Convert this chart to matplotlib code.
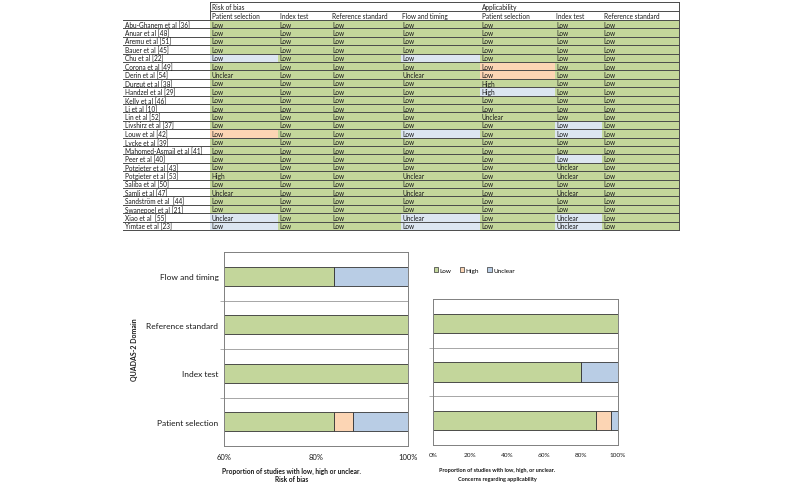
import matplotlib
matplotlib.use("Agg")
import matplotlib.pyplot as plt
from matplotlib.patches import Rectangle, Patch

plt.rcParams['font.family'] = ['Lato', 'DejaVu Sans']

# ---------------- table data ----------------
studies = ["Abu-Ghanem et al [36]", "Anuar et al [48]", "Aremu et al [51]", "Bauer et al [45]",
           "Chu et al [22]", "Corona et al [49]", "Derin et al [54]", "Durgut et al [38]",
           "Handzel et al [29]", "Kelly et al [46]", "Li et al [10]", "Lin et al [52]",
           "Livshirz et al [37]", "Louw et al [42]", "Lycke et al [39]", "Mahomed-Asmail et al [41]",
           "Peer et al [40]", "Potgieter et al [43]", "Potgieter et al [53]", "Saliba et al [50]",
           "Samli et al [47]", "Sandström et al  [44]", "Swanepoel et al [21]", "Xiao et al  [55]",
           "Yimtae et al [23]"]
column_names = ["Patient selection", "Index test", "Reference standard", "Flow and timing",
                "Patient selection", "Index test", "Reference standard"]
group_names = ["Risk of bias", "Applicability"]

L, U, H = "Low", "Unclear", "High"
rob_ps = [L, L, L, L, L, L, U, L, L, L, L, L, L, L, L, L, L, L, H, L, U, L, L, U, L]
rob_idx = [L] * 25
rob_ref = [L] * 25
rob_flow = [L, L, L, L, L, L, U, L, L, L, L, L, L, L, L, L, L, L, U, L, U, L, L, U, L]
app_ps = [L, L, L, L, L, L, L, H, H, L, L, U, L, L, L, L, L, L, L, L, L, L, L, L, L]
app_idx = [L, L, L, L, L, L, L, L, L, L, L, L, L, L, L, L, L, U, U, L, U, L, L, U, U]
app_ref = [L] * 25

# cell shading as it appears in the reference (g=green, b=blue, p=peach)
rob_ps_fill = list("ggggbggggggggpgggggggggbb")
rob_idx_fill = list("g" * 25)
rob_ref_fill = list("g" * 25)
rob_flow_fill = list("ggggbggggggggbgggggggggbb")
app_ps_fill = list("gggggppgbgggggggggggggggg")
app_idx_fill = list("ggggggggggggbbggbggggggbb")
app_ref_fill = list("g" * 25)

# ---------------- summary chart data (%) ----------------
rob_domains = ["Patient selection", "Index test", "Reference standard", "Flow and timing"]
rob_low = [84, 100, 100, 84]
rob_high = [4, 0, 0, 0]
rob_unclear = [12, 0, 0, 16]
rob_ticks = [60, 80, 100]

app_domains = ["Patient selection", "Index test", "Reference standard"]
app_low = [88, 80, 100]
app_high = [8, 0, 0]
app_unclear = [4, 20, 0]
app_ticks = [0, 20, 40, 60, 80, 100]

legend_labels = ["Low", "High", "Unclear"]

# ---------------- styling ----------------
fill_colors = {"g": "#c4d79b", "b": "#dce6f1", "p": "#fcd5b4"}
bar_colors = ["#c3d69b", "#fcd5b4", "#b9cde5"]
line_c = "#4a4a4a"
txt_c = "#1a1a1a"
fs_tab = 4.7

fig = plt.figure(figsize=(8, 4.85), dpi=100)

# ---------------- table ----------------
tab = fig.add_axes([0, 0, 1, 1], zorder=0)
tab.set_xlim(0, 800)
tab.set_ylim(485, 0)
tab.axis("off")

col_edges = [210, 278, 331, 401, 480, 555, 602, 679]
name_x = 125
top_y, h1, h2 = 3, 12, 21
row_h = (231 - 21) / 25

cols = [rob_ps, rob_idx, rob_ref, rob_flow, app_ps, app_idx, app_ref]
fills = [rob_ps_fill, rob_idx_fill, rob_ref_fill, rob_flow_fill, app_ps_fill, app_idx_fill, app_ref_fill]

for i, name in enumerate(studies):
    y0 = h2 + i * row_h
    yc = y0 + row_h / 2
    tab.text(name_x, yc, name, fontsize=fs_tab, color=txt_c, va="center", ha="left")
    for j, (vals, fl) in enumerate(zip(cols, fills)):
        x0, x1 = col_edges[j], col_edges[j + 1]
        tab.add_patch(Rectangle((x0, y0), x1 - x0, row_h, facecolor=fill_colors[fl[i]],
                                edgecolor="none", zorder=1))
        tab.text(x0 + 1.5, yc, vals[i], fontsize=fs_tab, color=txt_c, va="center", ha="left", zorder=3)

for i in range(26):
    y = h2 + i * row_h
    tab.plot([name_x - 2, col_edges[-1]], [y, y], color=line_c, lw=0.7, zorder=2)
tab.plot([col_edges[0], col_edges[-1]], [top_y, top_y], color=line_c, lw=0.7, zorder=2)
tab.plot([col_edges[0], col_edges[-1]], [h1, h1], color=line_c, lw=0.7, zorder=2)
tab.plot([col_edges[0], col_edges[0]], [top_y, h2], color=line_c, lw=0.7, zorder=2)
tab.plot([col_edges[-1], col_edges[-1]], [top_y, h2 + 25 * row_h], color=line_c, lw=0.7, zorder=2)

tab.text(col_edges[0] + 1.5, (top_y + h1) / 2, group_names[0], fontsize=fs_tab, color=txt_c, va="center")
tab.text(col_edges[4] + 1.5, (top_y + h1) / 2, group_names[1], fontsize=fs_tab, color=txt_c, va="center")
for j, cn in enumerate(column_names):
    tab.text(col_edges[j] + 1.5, (h1 + h2) / 2, cn, fontsize=fs_tab, color=txt_c, va="center")


# ---------------- bar charts ----------------
def style_ax(ax, n, ticks, xlim, fs):
    ax.set_xlim(*xlim)
    ax.set_ylim(-0.5, n - 0.5)
    ax.set_xticks(ticks)
    ax.set_xticklabels([f"{t}%" for t in ticks], fontsize=fs, color=txt_c)
    ax.tick_params(axis="x", length=0, pad=5)
    ax.set_yticks([k + 0.5 for k in range(n - 1)])
    ax.set_yticklabels([])
    ax.tick_params(axis="y", which="major", length=3, color="#a0a0a0", width=0.6)
    for k in range(n - 1):
        ax.axhline(k + 0.5, color="#a6a6a6", lw=0.7, zorder=0)
    for s in ax.spines.values():
        s.set_color("#808080")
        s.set_linewidth(0.7)


def draw_bars(ax, cats, low, high, unclear):
    y = list(range(len(cats)))
    left = [0] * len(cats)
    for vals, c in zip([low, high, unclear], bar_colors):
        ax.barh(y, vals, left=left, height=0.4, color=c, edgecolor="#333333",
                linewidth=0.6, zorder=2)
        left = [lf + v for lf, v in zip(left, vals)]


ax1 = fig.add_axes([224 / 800, 1 - 447 / 485, (408 - 224) / 800, (447 - 253) / 485])
draw_bars(ax1, rob_domains, rob_low, rob_high, rob_unclear)
style_ax(ax1, len(rob_domains), rob_ticks, (60, 100), 5.5)
ax1.set_yticks(range(len(rob_domains)), minor=True)
ax1.set_yticklabels(rob_domains, minor=True, fontsize=6.0, color=txt_c)
ax1.tick_params(axis="y", which="minor", length=0, pad=4)

ax2 = fig.add_axes([433 / 800, 1 - 446 / 485, (618 - 433) / 800, (446 - 300) / 485])
draw_bars(ax2, app_domains, app_low, app_high, app_unclear)
style_ax(ax2, len(app_domains), app_ticks, (0, 100), 4.6)

fig.text(135 / 800, 1 - 350 / 485, "QUADAS-2 Domain", rotation=90, fontsize=5, weight="bold",
         ha="center", va="center", color=txt_c)

fig.text(292 / 800, 1 - 471 / 485, "Proportion of studies with low, high or unclear.", fontsize=4.8,
         weight="bold", ha="center", va="center", color=txt_c)
fig.text(292 / 800, 1 - 480 / 485, "Risk of bias", fontsize=4.8, weight="bold", ha="center",
         va="center", color=txt_c)
fig.text(497 / 800, 1 - 471 / 485, "Proportion of studies with low, high, or unclear.", fontsize=4.0,
         weight="bold", ha="center", va="center", color=txt_c)
fig.text(497 / 800, 1 - 480 / 485, "Concerns regarding applicability", fontsize=4.0, weight="bold",
         ha="center", va="center", color=txt_c)

handles = [Patch(facecolor=c, edgecolor="#333333", linewidth=0.5) for c in bar_colors]
fig.legend(handles, legend_labels, loc="center left", bbox_to_anchor=(434 / 800, 1 - 271 / 485),
           ncol=3, frameon=False, fontsize=4.6, handlelength=0.7, handleheight=0.7,
           columnspacing=1.3, handletextpad=0.2, borderaxespad=0, borderpad=0)

fig.savefig("out.png", dpi=100, facecolor="white")
